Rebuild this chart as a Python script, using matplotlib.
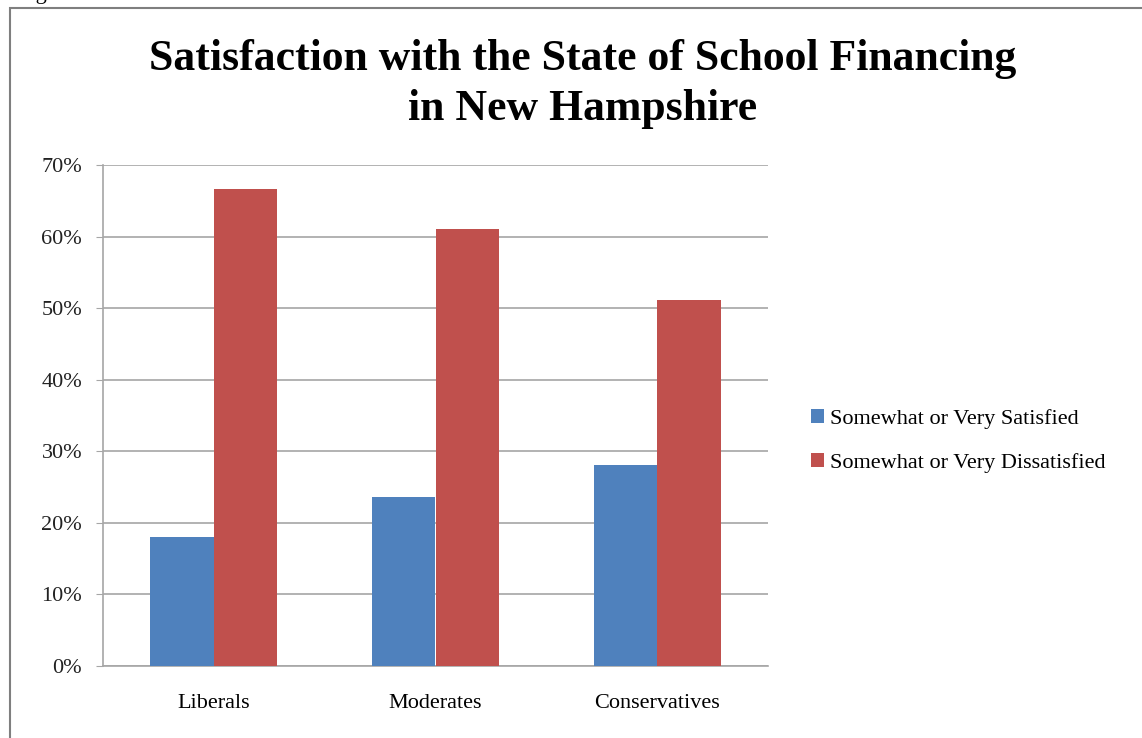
import matplotlib
matplotlib.use("Agg")
import matplotlib.pyplot as plt
import matplotlib.patches as mpatches
import numpy as np
from matplotlib.ticker import FuncFormatter

# ── data ──────────────────────────────────────────────────────────────────────
categories = ["Liberals", "Moderates", "Conservatives"]
satisfied = [18.0, 23.6, 28.1]
dissatisfied = [66.6, 61.1, 51.1]
series_names = ["Somewhat or Very Satisfied", "Somewhat or Very Dissatisfied"]
yticks = [0, 10, 20, 30, 40, 50, 60, 70]
title_lines = ["Satisfaction with the State of School Financing",
               "in New Hampshire"]

BLUE = "#4F81BD"
RED = "#C0504D"
GRID = "#A6A6A6"
SERIF = ["Liberation Serif", "DejaVu Serif"]

plt.rcParams["font.family"] = SERIF

fig = plt.figure(figsize=(11.42, 7.38), dpi=100)

# outer frame of the chart (cut off at right/bottom in the source image)
frame = mpatches.Rectangle((10 / 1142, -0.05), 1.2, 1 - 8 / 738 + 0.05,
                           transform=fig.transFigure, fill=False,
                           edgecolor="#7F7F7F", lw=1.5)
fig.patches.append(frame)
# caption above the frame, cropped in the source (only descenders show)
fig.text(17 / 1142, 1 + 1 / 738, "Figure 6:", fontsize=16, va="baseline",
         ha="left")

ax = fig.add_axes([103 / 1142, 1 - 666 / 738, 665 / 1142, 501 / 738])

x = np.arange(len(categories))
w = 0.286
ax.bar(x - w / 2, satisfied, width=w, color=BLUE, label=series_names[0],
       zorder=3)
ax.bar(x + w / 2, dissatisfied, width=w, color=RED, label=series_names[1],
       zorder=3)

ax.set_xlim(-0.5, len(categories) - 0.5)
ax.set_ylim(0, 70)
ax.set_yticks(yticks)
ax.yaxis.set_major_formatter(FuncFormatter(lambda v, _: f"{v:.0f}%"))
ax.grid(axis="y", color=GRID, lw=1.2, zorder=0)
ax.set_xticks(x)
ax.set_xticklabels(categories, fontsize=16)
ax.tick_params(axis="x", length=0, pad=20)
ax.tick_params(axis="y", length=5, color=GRID, labelsize=16, pad=10,
               labelcolor="#222222")

for side in ("top", "right"):
    ax.spines[side].set_visible(False)
for side in ("left", "bottom"):
    ax.spines[side].set_color(GRID)
    ax.spines[side].set_linewidth(1.2)

# title: two lines placed by baseline
for line, base in zip(title_lines, (70, 120)):
    fig.text(583 / 1142, 1 - base / 738, line, ha="center", va="baseline",
             fontsize=31.5, fontweight="bold")

ax.legend(loc="center left", bbox_to_anchor=(791 / 1142, 1 - 441 / 738),
          bbox_transform=fig.transFigure, frameon=False, fontsize=16,
          handlelength=0.6, handleheight=0.6, handletextpad=0.25,
          labelspacing=1.1)

fig.savefig("out.png", dpi=100)
